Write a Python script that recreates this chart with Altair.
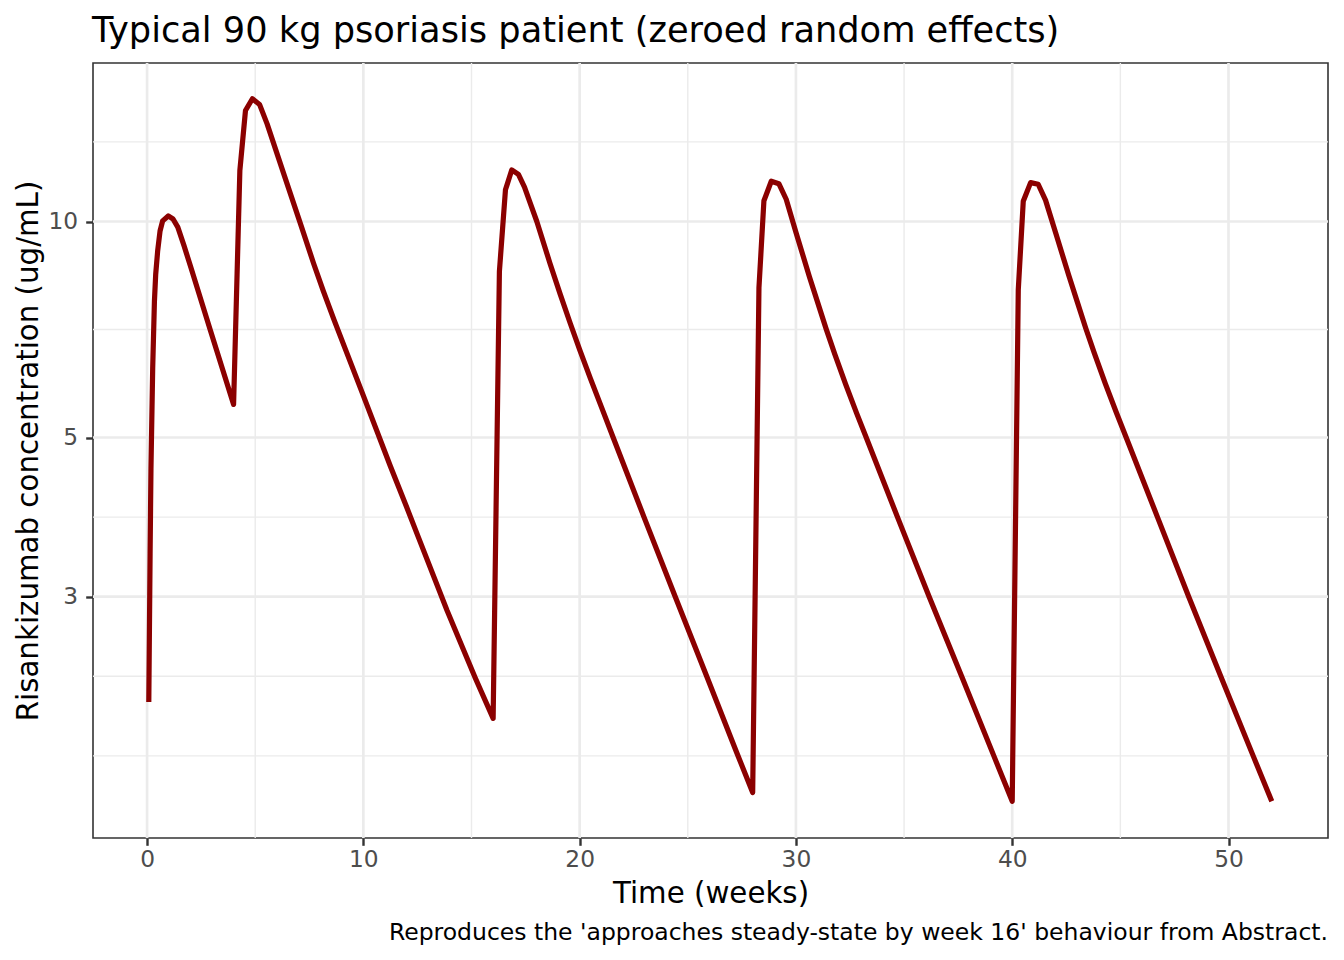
import altair as alt
import pandas as pd

# ---- data ----
time_weeks = [0.08, 0.14, 0.18, 0.26, 0.34, 0.40, 0.49, 0.60, 0.72, 0.98, 1.20, 1.42, 1.70, 2.03, 2.94, 3.70, 4.00,
              4.29, 4.55, 4.87, 5.20, 5.55, 6.32, 7.09, 7.70, 8.15, 8.64, 9.95, 11.25, 12.00, 12.56, 13.87, 15.18, 16.00,
              16.29, 16.57, 16.86, 17.17, 17.45, 18.02, 18.63, 19.10, 19.56, 20.00, 20.50, 21.00, 21.55,
              22.98, 24.42, 25.86, 27.26, 28.00,
              28.29, 28.52, 28.86, 29.21, 29.55, 30.01, 30.63, 31.00, 31.40, 31.80, 32.30, 32.80, 33.25,
              34.70, 36.16, 37.67, 39.15, 40.00,
              40.28, 40.51, 40.85, 41.20, 41.54, 42.00, 42.62, 43.00, 43.40, 43.80, 44.30, 44.80, 45.27,
              46.72, 48.16, 49.65, 51.14, 52.00]
conc_ugml = [2.14, 3.45, 4.53, 6.25, 7.74, 8.45, 9.10, 9.70, 10.02, 10.18, 10.08, 9.82, 9.27, 8.62, 7.03, 5.94, 5.56,
             11.78, 14.28, 14.83, 14.56, 13.68, 11.65, 9.93, 8.74, 8.00, 7.30, 5.77, 4.56, 4.00, 3.62, 2.87, 2.31, 2.03,
             8.52, 11.07, 11.80, 11.63, 11.17, 10.00, 8.74, 7.92, 7.22, 6.63, 6.04, 5.52, 5.00,
             3.87, 3.00, 2.33, 1.82, 1.60,
             8.08, 10.69, 11.38, 11.29, 10.74, 9.64, 8.36, 7.72, 7.08, 6.53, 5.93, 5.41, 5.00,
             3.87, 3.00, 2.32, 1.80, 1.556,
             8.03, 10.67, 11.33, 11.27, 10.71, 9.66, 8.40, 7.74, 7.10, 6.55, 5.95, 5.43, 5.00,
             3.87, 3.00, 2.32, 1.80, 1.556]

x_major = [0, 10, 20, 30, 40, 50]
x_minor = [5, 15, 25, 35, 45]
y_major = [3, 5, 10]
y_minor = [1.8, 2.324, 3.873, 7.071, 12.91]

title_text = ["Typical 90 kg psoriasis patient (zeroed random effects)"]
x_title = "Time (weeks)"
y_title = "Risankizumab concentration (ug/mL)"
caption_text = ["Reproduces the 'approaches steady-state by week 16' behaviour from Abstract."]

x_domain = [-2.5, 54.6]
y_domain = [1.383, 16.63]

FONT = "DejaVu Sans"
W, H = 1235, 775

xs = alt.Scale(domain=x_domain, nice=False, zero=False)
ys = alt.Scale(type="log", domain=y_domain, nice=False)

x_axis = alt.Axis(values=x_major, format="d", title=x_title,
                  labelPadding=3, titleBaseline="alphabetic", titleY=64)
y_axis = alt.Axis(values=y_major, format="d", title=y_title,
                  labelPadding=8, titleBaseline="alphabetic", titleX=-56, titleY=H / 2)

df = pd.DataFrame({"t": time_weeks, "c": conc_ugml})

gx_minor = alt.Chart(pd.DataFrame({"t": x_minor})).mark_rule(
    color="#EBEBEB", strokeWidth=1.4).encode(x=alt.X("t:Q", scale=xs, axis=x_axis))
gy_minor = alt.Chart(pd.DataFrame({"c": y_minor})).mark_rule(
    color="#EBEBEB", strokeWidth=1.4).encode(y=alt.Y("c:Q", scale=ys, axis=y_axis))
gx_major = alt.Chart(pd.DataFrame({"t": x_major})).mark_rule(
    color="#EBEBEB", strokeWidth=2.7).encode(x=alt.X("t:Q", scale=xs, axis=x_axis))
gy_major = alt.Chart(pd.DataFrame({"c": y_major})).mark_rule(
    color="#EBEBEB", strokeWidth=2.7).encode(y=alt.Y("c:Q", scale=ys, axis=y_axis))

line = alt.Chart(df).mark_line(
    color="#8B0000", strokeWidth=5.2, strokeJoin="round", strokeCap="butt"
).encode(
    x=alt.X("t:Q", scale=xs, axis=x_axis),
    y=alt.Y("c:Q", scale=ys, axis=y_axis),
)

title_mark = alt.Chart(pd.DataFrame({"txt": title_text})).mark_text(
    align="left", baseline="alphabetic", fontSize=35.2, color="#000000", font=FONT
).encode(x=alt.value(-1), y=alt.value(-21), text="txt:N")

cap = alt.Chart(pd.DataFrame({"txt": caption_text})).mark_text(
    align="right", baseline="alphabetic", fontSize=23.5, color="#000000", font=FONT
).encode(x=alt.value(W), y=alt.value(877), text="txt:N")

chart = alt.layer(gx_minor, gy_minor, gx_major, gy_major, line, title_mark, cap).properties(
    width=W, height=H,
    autosize=alt.AutoSizeParams(type="none"),
    padding={"left": 85, "top": 55, "right": 8, "bottom": 115},
).configure_view(
    stroke="#333333", strokeWidth=1.6
).configure_axis(
    domain=False, grid=False,
    tickColor="#333333", tickWidth=2.4, tickSize=7.3,
    labelFont=FONT, labelFontSize=23.3, labelColor="#4D4D4D",
    titleFont=FONT, titleFontSize=29.3, titleFontWeight="normal", titleColor="#000000",
)

chart.save("out.html", embed_options={"renderer": "svg", "actions": False})
